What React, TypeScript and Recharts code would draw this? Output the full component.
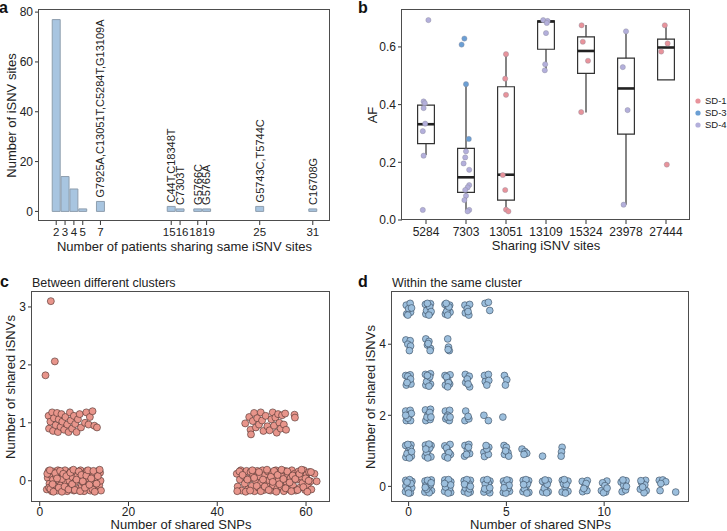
import React from 'react'
import {
  ComposedChart,
  Scatter,
  XAxis,
  YAxis,
  ReferenceArea,
  ReferenceLine,
} from 'recharts'

const FONT = '"Liberation Sans", Arial, Helvetica, sans-serif'

// ---- panel a: number of patients sharing a site -> number of sites
const patientCounts = [2, 3, 4, 5, 7, 15, 16, 18, 19, 25, 31]
const siteCounts = [77, 14, 9, 1, 4, 2, 1, 1, 1, 2, 1]
const siteNames = [
  '', '', '', '',
  'G7925A,C13051T,C5284T,G13109A',
  'C44T,C18348T',
  'C7303T',
  'G5766C',
  'G5765A',
  'G5743C,T5744C',
  'C16708G',
]

// ---- panel b: allele frequency of shared iSNV sites
const sharedSites = ['5284', '7303', '13051', '13109', '15324', '23978', '27444']
const boxQ1 = [0.265, 0.096, 0.069, 0.592, 0.508, 0.298, 0.486]
const boxMedian = [0.332, 0.148, 0.157, 0.688, 0.586, 0.456, 0.598]
const boxQ3 = [0.398, 0.248, 0.462, 0.69, 0.635, 0.561, 0.627]
const whiskerLow = [0.225, 0.032, 0.032, 0.52, 0.373, 0.053, 0.486]
const whiskerHigh = [0.407, 0.471, 0.575, 0.693, 0.676, 0.655, 0.673]

const donors = ['SD-1', 'SD-3', 'SD-4']
const donorColors = ['#e8939b', '#6b9fd4', '#b3afdb']

// [site index, jitter, AF]
const sd1Points = [
  [2, 0, 0.575], [2, -0.02, 0.49], [2, 0, 0.434], [2, -0.08, 0.156], [2, -0.02, 0.104],
  [2, 0, 0.036], [2, 0.06, 0.03],
  [4, -0.11, 0.675], [4, -0.08, 0.618], [4, 0.05, 0.552], [4, -0.12, 0.374],
  [6, -0.03, 0.675], [6, 0.04, 0.612], [6, -0.12, 0.584], [6, 0.02, 0.192],
]
const sd3Points = [
  [1, -0.04, 0.629], [1, -0.11, 0.608], [1, 0, 0.471], [1, 0.07, 0.281],
]
const sd4Points = [
  [0, 0.06, 0.693], [0, -0.06, 0.411], [0, -0.03, 0.405], [0, -0.06, 0.388], [0, -0.02, 0.334],
  [0, -0.08, 0.308], [0, -0.06, 0.223], [0, -0.08, 0.035],
  [1, 0, 0.238], [1, -0.02, 0.217], [1, -0.06, 0.196], [1, 0.08, 0.174], [1, 0.08, 0.121],
  [1, 0.04, 0.113], [1, -0.02, 0.104], [1, 0, 0.084], [1, -0.04, 0.069], [1, 0.08, 0.035],
  [1, 0.04, 0.03],
  [3, -0.07, 0.693], [3, 0.04, 0.69], [3, 0.02, 0.683], [3, 0, 0.648], [3, -0.02, 0.54],
  [3, -0.03, 0.519],
  [5, 0, 0.654], [5, -0.08, 0.53], [5, 0.04, 0.381], [5, -0.06, 0.053],
]
const donorPoints = [sd1Points, sd3Points, sd4Points]

// ---- panel c: between different clusters [shared SNPs, shared iSNVs] (jittered)
const betweenLowLeft = [
  [1.6, -0.15], [1.8, 0.05], [2.0, 0.17], [2.2, -0.05], [2.5, 0.1], [2.7, -0.18], [3.0, 0.02],
  [3.2, 0.16], [3.4, -0.1], [3.7, 0.08], [4.0, -0.17], [4.1, 0.18], [4.4, 0.0], [4.7, -0.08],
  [4.9, 0.14], [5.2, -0.16], [5.4, 0.05], [5.7, 0.18], [5.9, -0.04], [6.2, -0.18], [6.4, 0.11],
  [6.7, 0.0], [7.0, -0.12], [7.1, 0.17], [7.4, 0.06], [7.7, -0.17], [8.0, -0.02], [8.1, 0.15],
  [8.5, 0.08], [8.7, -0.14], [9.0, 0.02], [9.2, 0.18], [9.5, -0.09], [9.8, 0.12], [10.0, -0.18],
  [10.3, 0.03], [10.6, 0.17], [10.8, -0.1], [11.1, 0.08], [11.4, -0.17], [11.7, 0.15],
  [12.0, -0.03], [12.3, 0.11], [12.6, -0.14], [12.9, 0.05], [13.2, 0.17], [13.4, -0.08],
  [13.7, 0.0], [13.8, -0.17], [13.6, 0.14], [2.1, -0.12], [5.0, 0.03], [9.9, -0.04], [11.9, -0.15],
  [1.7, 0.12], [2.3, 0.18], [2.4, -0.14], [2.9, -0.06], [3.1, -0.19], [3.5, 0.13], [3.9, 0.04],
  [4.3, -0.12], [4.6, 0.17], [5.0, -0.19], [5.3, 0.12], [5.6, -0.1], [6.0, 0.08], [6.5, -0.15],
  [6.9, 0.14], [7.3, -0.06], [7.6, 0.19], [7.9, -0.16], [8.3, 0.02], [8.8, 0.16], [9.1, -0.18],
  [9.4, 0.1], [9.7, -0.01], [10.2, -0.12], [10.5, 0.09], [10.9, 0.18], [11.2, -0.07],
  [11.6, 0.04], [12.1, 0.17], [12.4, -0.19], [12.8, -0.05], [13.1, 0.08], [13.5, 0.19],
]
const betweenLowRight = [
  [44.4, 0.12], [44.6, -0.1], [45.1, 0.02], [45.3, 0.18], [45.5, -0.17], [46.0, 0.08],
  [46.2, -0.05], [46.6, 0.17], [46.9, -0.15], [47.2, 0.03], [47.5, 0.15], [47.8, -0.09],
  [48.1, 0.1], [48.4, -0.18], [48.7, 0.0], [49.0, 0.17], [49.3, -0.12], [49.6, 0.07],
  [49.9, -0.03], [50.2, 0.18], [50.5, -0.16], [50.8, 0.1], [51.1, -0.06], [51.4, 0.16],
  [51.7, 0.01], [52.0, -0.17], [52.3, 0.12], [52.6, -0.08], [52.9, 0.05], [53.2, 0.18],
  [53.5, -0.14], [53.8, 0.0], [54.1, 0.15], [54.4, -0.1], [54.7, 0.08], [55.0, -0.18],
  [55.3, 0.17], [55.6, -0.02], [55.9, 0.11], [56.2, -0.15], [56.5, 0.04], [56.8, 0.18],
  [57.1, -0.09], [57.4, 0.12], [57.7, -0.17], [58.0, 0.02], [58.3, 0.16], [58.6, -0.12],
  [58.9, 0.07], [59.2, -0.04], [59.5, 0.18], [59.8, -0.16], [60.1, 0.1], [60.4, -0.07],
  [60.7, 0.15], [61.0, -0.01], [61.2, -0.15], [61.9, 0.12], [62.4, -0.01],
  [44.5, -0.18], [45.0, 0.16], [45.7, 0.1], [46.4, -0.19], [46.8, 0.02], [47.4, -0.17],
  [47.9, 0.18], [48.3, 0.05], [48.9, -0.09], [49.4, 0.15], [49.8, -0.18], [50.3, 0.02],
  [50.7, -0.1], [51.2, 0.19], [51.6, -0.16], [52.1, 0.07], [52.5, -0.02], [52.8, 0.17],
  [53.3, -0.19], [53.6, 0.1], [54.0, -0.06], [54.5, 0.19], [54.9, 0.03], [55.4, -0.13],
  [55.8, 0.16], [56.3, -0.03], [56.7, -0.18], [57.0, 0.09], [57.6, 0.03], [58.1, -0.16],
  [58.5, 0.12], [59.0, 0.19], [59.4, -0.11], [59.9, 0.04], [60.3, -0.19], [60.6, 0.0], [61.1, 0.15],
]
const betweenHighLeft = [
  [2.0, 1.12], [2.1, 0.9], [2.4, 1.02], [2.8, 1.18], [3.0, 0.86], [3.2, 1.08], [3.6, 0.96],
  [3.9, 1.17], [4.1, 0.84], [4.3, 1.06], [4.7, 0.93], [4.9, 1.15], [5.1, 1.02], [5.5, 0.88],
  [5.8, 1.1], [6.2, 0.97], [6.5, 0.84], [6.8, 1.18], [7.0, 1.04], [7.3, 0.9], [7.7, 1.12],
  [8.0, 0.98], [8.3, 0.84], [8.6, 1.06], [9.0, 1.15], [9.3, 0.92], [10.2, 1.0], [10.5, 1.18],
  [11.0, 0.97], [11.3, 1.1], [11.9, 1.2], [12.3, 0.95], [12.9, 0.92],
]
const betweenHighRight = [
  [46.3, 0.99], [47.2, 1.1], [47.5, 0.88], [47.6, 0.8], [48.0, 1.03], [48.3, 1.17],
  [48.7, 0.92], [49.0, 1.08], [49.4, 0.97], [49.8, 1.18], [50.1, 1.04], [50.4, 0.86],
  [50.9, 1.12], [51.3, 0.94], [51.8, 0.87], [52.2, 1.06], [52.5, 1.18], [52.8, 0.95],
  [53.1, 1.09], [53.4, 0.83], [53.7, 1.15], [54.0, 1.0], [54.3, 0.9], [54.6, 1.13],
  [55.0, 0.97], [55.3, 1.16], [55.5, 0.88], [57.4, 1.14], [57.5, 1.09],
]
const betweenOutliers = [[1.3, 1.82], [2.5, 3.1], [3.4, 2.06]]

// ---- panel d: within the same cluster [shared SNPs, shared iSNVs] (jittered)
const withinRow0 = [
  [-0.16, -0.15], [0.09, -0.18], [0.17, 0.14], [-0.15, 0.17], [0.02, 0.03], [0.16, -0.04],
  [-0.14, 0.01], [0.05, 0.19], [-0.04, -0.09], [0.12, 0.08], [-0.08, 0.12], [0.0, -0.19],
  [0.84, 0.15], [1.16, 0.18], [0.83, -0.16], [1.17, -0.12], [1.01, -0.02], [0.88, 0.02],
  [1.12, 0.05], [0.97, 0.17], [1.05, -0.18], [0.92, -0.08], [1.15, 0.1], [0.85, -0.03],
  [1.84, -0.14], [2.15, -0.17], [2.16, 0.13], [1.85, 0.18], [2.0, 0.0], [1.94, 0.1],
  [2.09, -0.06], [1.89, -0.02], [2.04, 0.19], [2.02, -0.19], [2.15, 0.04], [1.84, 0.08],
  [2.84, 0.16], [3.16, 0.17], [2.85, -0.15], [3.15, -0.16], [3.0, 0.04], [2.91, -0.05],
  [3.09, 0.07], [2.98, 0.19], [3.04, -0.19], [3.11, -0.07], [2.86, 0.06], [3.16, 0.0],
  [3.85, -0.16], [4.15, -0.18], [4.16, 0.15], [3.84, 0.17], [3.98, -0.02], [4.08, 0.09],
  [3.92, 0.06], [4.02, 0.19], [4.06, -0.1], [3.89, -0.07], [4.15, -0.04],
  [4.85, 0.15], [5.15, 0.16], [4.84, -0.17], [5.16, -0.14], [5.0, 0.01], [4.92, 0.08],
  [5.08, -0.06], [5.03, 0.18], [4.97, -0.19], [5.14, 0.03], [4.88, -0.04],
  [5.85, -0.15], [6.15, -0.17], [6.14, 0.16], [5.86, 0.17], [6.01, 0.0], [5.92, -0.07],
  [6.08, 0.07], [6.0, 0.19], [6.05, -0.19], [5.88, 0.05],
  [6.85, 0.14], [7.15, 0.16], [6.86, -0.16], [7.14, -0.15], [7.02, 0.02], [6.94, -0.05],
  [7.09, 0.06], [6.98, 0.18], [7.06, -0.18],
  [7.85, -0.16], [8.15, -0.14], [8.15, 0.15], [7.86, 0.17], [8.0, -0.01], [7.92, 0.07],
  [8.06, 0.05], [8.02, -0.19], [7.96, 0.19],
  [8.88, 0.14], [9.14, 0.16], [8.9, -0.15], [9.12, -0.12], [9.02, 0.0], [9.08, 0.08], [8.96, -0.06],
  [9.86, -0.12], [10.14, 0.15], [10.08, -0.16], [9.92, 0.1], [10.04, 0.02], [9.97, -0.18], [10.15, -0.05],
  [10.87, 0.12], [11.12, 0.16], [10.92, -0.15], [11.1, -0.1], [11.0, 0.03], [11.14, 0.0], [10.96, 0.18],
  [11.85, -0.08], [12.12, 0.17], [12.15, -0.12], [11.92, 0.1], [12.04, -0.18], [12.08, 0.04],
  [11.88, 0.16], [11.97, -0.02],
  [12.82, 0.17], [13.0, 0.18], [13.15, 0.13], [12.9, 0.08], [12.86, -0.12],
  [13.66, -0.16],
]
const withinRow1 = [
  [-0.15, 1.15], [0.12, 1.17], [-0.14, 0.82], [0.14, 0.85], [0.0, 1.0], [-0.08, 0.92],
  [0.08, 1.08], [0.04, 0.8], [-0.04, 1.18], [0.15, 0.98],
  [0.85, 0.85], [1.14, 0.83], [0.86, 1.16], [1.15, 1.15], [1.0, 1.02], [0.92, 0.95],
  [1.08, 1.08], [0.98, 0.8], [1.04, 1.19], [0.88, 1.05],
  [1.85, 1.14], [2.12, 1.18], [1.86, 0.84], [2.14, 0.9], [2.0, 1.0], [1.94, 1.08], [2.06, 0.95], [2.0, 0.8],
  [2.88, 1.15], [3.08, 1.18], [2.86, 0.85], [3.12, 0.92], [3.0, 1.02], [2.96, 0.9], [3.06, 1.1],
  [3.85, 0.96], [4.1, 1.1], [3.88, 0.84], [4.08, 0.9], [4.0, 1.05], [3.96, 1.15],
  [4.88, 1.15], [5.0, 1.1], [4.9, 0.9], [5.08, 0.95], [5.12, 0.85], [4.96, 1.0],
  [5.8, 1.05], [5.95, 0.98], [6.04, 0.93], [5.9, 0.9],
  [6.85, 0.85],
  [7.85, 1.1], [7.82, 0.97], [7.8, 0.85],
]
const withinRow2 = [
  [-0.15, 2.12], [0.08, 2.14], [-0.12, 1.85], [0.1, 1.85], [0.0, 2.0], [-0.04, 1.92], [0.14, 2.05], [-0.15, 2.0],
  [0.86, 2.15], [1.12, 2.17], [0.88, 1.85], [1.1, 1.88], [1.0, 2.02], [0.94, 1.95], [1.08, 2.08], [1.14, 1.95],
  [1.88, 2.12], [2.1, 2.14], [1.9, 1.9], [2.08, 1.85], [2.0, 2.0], [1.96, 1.95], [2.12, 1.95],
  [2.92, 2.12], [2.88, 1.85], [3.08, 1.9], [3.04, 1.97],
  [3.85, 2.0], [4.08, 1.85],
  [4.82, 1.95],
]
const withinRow3 = [
  [-0.15, 3.12], [0.08, 3.14], [-0.12, 2.85], [0.12, 2.88], [0.0, 3.0], [-0.04, 3.1], [0.1, 3.02], [-0.08, 2.92],
  [0.86, 3.15], [1.12, 3.17], [0.88, 2.85], [1.12, 2.88], [1.0, 3.02], [0.92, 2.95], [1.08, 3.08], [0.96, 3.12], [1.04, 2.82],
  [1.86, 3.12], [2.12, 3.14], [1.88, 2.85], [2.1, 2.88], [2.0, 3.0], [1.94, 3.08], [2.04, 2.92], [2.0, 2.8],
  [2.9, 3.15], [3.1, 3.1], [2.92, 2.92], [3.12, 2.8], [3.0, 3.02], [3.04, 2.88],
  [3.88, 3.12], [4.08, 3.15], [3.92, 2.95], [4.1, 2.98], [4.0, 2.85],
  [4.9, 3.12], [5.02, 3.0], [4.95, 2.85],
]
const withinRow4 = [
  [-0.14, 4.12], [0.08, 4.1], [-0.04, 4.0], [0.1, 3.95], [0.04, 3.82],
  [0.88, 4.15], [1.04, 4.08], [0.96, 3.98], [1.12, 3.88], [1.1, 3.82], [1.0, 4.02],
  [2.0, 4.15], [2.04, 3.92], [2.08, 3.82], [2.02, 3.85],
]
const withinRow5 = [
  [-0.12, 5.1], [0.08, 5.15], [-0.1, 4.85], [0.1, 4.9], [0.0, 5.0], [-0.04, 4.82], [0.15, 5.02],
  [0.86, 5.12], [1.12, 5.14], [0.88, 4.85], [1.1, 4.88], [1.0, 5.0], [0.92, 4.95], [1.08, 5.05],
  [1.15, 4.92], [0.96, 5.15], [1.04, 4.82],
  [1.86, 5.12], [2.1, 5.1], [1.88, 4.85], [2.12, 4.9], [2.0, 5.0], [1.94, 4.92], [2.06, 5.05],
  [2.0, 4.82], [1.92, 5.15],
  [2.88, 5.1], [3.12, 5.12], [2.9, 4.88], [3.08, 4.82], [3.0, 5.0], [3.04, 4.92],
  [3.91, 5.15], [4.08, 5.18], [4.15, 4.95],
]

const toXY = (pts: number[][]) => pts.map(([x, y]) => ({ x, y }))

const tickStyle = { fill: '#222', fontSize: 12, fontFamily: FONT }
const axisTitle = { fill: '#222', fontSize: 13, fontFamily: FONT }
const yTitle = { ...axisTitle, textAnchor: 'middle' as const }

const dot = (fill: string, stroke: string, r: number, sw: number) => (p: any) => (
  <circle cx={p.cx} cy={p.cy} r={r} fill={fill} stroke={stroke} strokeWidth={sw} />
)

// page layout of the four panels (chart box, margins, axis sizes)
const layout = {
  a: { left: 0, top: 0, width: 340, height: 260, margin: { top: 10, right: 10, bottom: 0, left: 0 }, yw: 39, xh: 39 },
  b: { left: 360, top: 0, width: 367, height: 260, margin: { top: 10, right: 37, bottom: 0, left: 0 }, yw: 42, xh: 40 },
  c: { left: 0, top: 260, width: 340, height: 271, margin: { top: 32, right: 10, bottom: 0, left: 0 }, yw: 32, xh: 29 },
  d: { left: 360, top: 260, width: 367, height: 271, margin: { top: 32, right: 38, bottom: 0, left: 0 }, yw: 32, xh: 29 },
}
type Box = typeof layout.a
const plotRect = (b: Box) => ({
  x: b.left + b.margin.left + b.yw,
  y: b.top + b.margin.top,
  w: b.width - b.margin.left - b.margin.right - b.yw,
  h: b.height - b.margin.top - b.margin.bottom - b.xh,
})

// small nudges so the crowded tick labels of panel a read as in the figure
const tickNudge: Record<number, number> = { 15: -2, 16: 2, 18: -2, 19: 2 }

const domA = { x: [0.055, 32.945], y: [-3.85, 80.85] }
const domB = { x: [-0.6, 6.6], y: [0, 0.728] }
const domC = { x: [-1.74, 65.4], y: [-0.367, 3.258] }
const domD = { x: [-0.85, 14.34], y: [-0.44, 5.47] }

const axisCommon = {
  type: 'number' as const,
  allowDataOverflow: true,
  interval: 0 as const,
  tickSize: 4,
  axisLine: false,
  tickLine: { stroke: '#333' },
}

function PanelA() {
  const L = layout.a
  const labelled = patientCounts
    .map((x, i) => ({ x, y: siteCounts[i], name: siteNames[i] }))
    .filter((d) => d.name)
  return (
    <ComposedChart width={L.width} height={L.height} margin={L.margin}>
      <XAxis
        {...axisCommon}
        dataKey="x"
        domain={domA.x}
        ticks={patientCounts}
        tickMargin={3}
        height={L.xh}
        tick={(p: any) => (
          <text
            x={p.x + (tickNudge[p.payload.value] || 0)}
            y={p.y}
            dy="0.71em"
            textAnchor="middle"
            {...tickStyle}
            fontSize={11.5}
          >
            {p.payload.value}
          </text>
        )}
        label={{ value: 'Number of patients sharing same iSNV sites', position: 'insideBottom', offset: 9, style: axisTitle }}
      />
      <YAxis
        {...axisCommon}
        dataKey="y"
        domain={domA.y}
        ticks={[0, 20, 40, 60, 80]}
        width={L.yw}
        tick={tickStyle}
        label={{ value: 'Number of iSNV sites', position: 'insideLeft', angle: -90, offset: 11, style: yTitle }}
      />
      {patientCounts.map((x, i) => (
        <ReferenceArea
          key={x}
          x1={x - 0.45}
          x2={x + 0.45}
          y1={0}
          y2={siteCounts[i]}
          fill="#a8c5e0"
          fillOpacity={1}
          stroke="#8e9eae"
          strokeWidth={1}
        />
      ))}
      <Scatter
        data={labelled}
        isAnimationActive={false}
        shape={(p: any) => (
          <text
            x={p.cx}
            y={p.cy - 4}
            dy="0.35em"
            transform={`rotate(-90 ${p.cx} ${p.cy - 4})`}
            fontSize={11}
            fontFamily={FONT}
            fill="#222"
          >
            {p.payload.name}
          </text>
        )}
      />
    </ComposedChart>
  )
}

function PanelB() {
  const L = layout.b
  return (
    <ComposedChart width={L.width} height={L.height} margin={L.margin}>
      <XAxis
        {...axisCommon}
        dataKey="x"
        domain={domB.x}
        ticks={sharedSites.map((_, i) => i)}
        tickFormatter={(i: number) => sharedSites[i]}
        tickMargin={3}
        tick={tickStyle}
        height={L.xh}
        label={{ value: 'Sharing iSNV sites', position: 'insideBottom', offset: 10, style: axisTitle }}
      />
      <YAxis
        {...axisCommon}
        dataKey="y"
        domain={domB.y}
        ticks={[0, 0.2, 0.4, 0.6]}
        tickFormatter={(v: number) => v.toFixed(1)}
        width={L.yw}
        tick={tickStyle}
        label={{ value: 'AF', position: 'insideLeft', angle: -90, offset: 12, style: yTitle }}
      />
      {sharedSites.map((s, i) => (
        <ReferenceLine key={'wl' + s} segment={[{ x: i, y: whiskerLow[i] }, { x: i, y: boxQ1[i] }]} stroke="#333" strokeWidth={1.2} />
      ))}
      {sharedSites.map((s, i) => (
        <ReferenceLine key={'wh' + s} segment={[{ x: i, y: boxQ3[i] }, { x: i, y: whiskerHigh[i] }]} stroke="#333" strokeWidth={1.2} />
      ))}
      {sharedSites.map((s, i) => (
        <ReferenceArea
          key={'box' + s}
          x1={i - 0.21}
          x2={i + 0.21}
          y1={boxQ1[i]}
          y2={boxQ3[i]}
          fill="#fff"
          fillOpacity={1}
          stroke="#333"
          strokeWidth={1.2}
        />
      ))}
      {sharedSites.map((s, i) => (
        <ReferenceLine key={'md' + s} segment={[{ x: i - 0.21, y: boxMedian[i] }, { x: i + 0.21, y: boxMedian[i] }]} stroke="#222" strokeWidth={2.6} />
      ))}
      {donorPoints.map((pts, k) => (
        <Scatter
          key={donors[k]}
          name={donors[k]}
          data={pts.map(([s, j, af]) => ({ x: s + j, y: af }))}
          isAnimationActive={false}
          shape={dot(donorColors[k], '#8a8a9a', 2.6, 0.4)}
        />
      ))}
    </ComposedChart>
  )
}

function PanelC() {
  const L = layout.c
  const groups = [betweenLowLeft, betweenLowRight, betweenHighLeft, betweenHighRight, betweenOutliers]
  return (
    <ComposedChart width={L.width} height={L.height} margin={L.margin}>
      <XAxis
        {...axisCommon}
        dataKey="x"
        domain={domC.x}
        ticks={[0, 20, 40, 60]}
        tickMargin={1}
        tick={tickStyle}
        height={L.xh}
        label={{ value: 'Number of shared SNPs', position: 'insideBottom', offset: 2, style: axisTitle }}
      />
      <YAxis
        {...axisCommon}
        dataKey="y"
        domain={domC.y}
        ticks={[0, 1, 2, 3]}
        width={L.yw}
        tick={tickStyle}
        label={{ value: 'Number of shared iSNVs', position: 'insideLeft', angle: -90, offset: 10, dy: -10, style: yTitle }}
      />
      {groups.map((g, k) => (
        <Scatter key={k} data={toXY(g)} isAnimationActive={false} shape={dot('#e8958b', '#4a2f2c', 3.5, 0.6)} />
      ))}
    </ComposedChart>
  )
}

function PanelD() {
  const L = layout.d
  const rows = [withinRow0, withinRow1, withinRow2, withinRow3, withinRow4, withinRow5]
  return (
    <ComposedChart width={L.width} height={L.height} margin={L.margin}>
      <XAxis
        {...axisCommon}
        dataKey="x"
        domain={domD.x}
        ticks={[0, 5, 10]}
        tickMargin={1}
        tick={tickStyle}
        height={L.xh}
        label={{ value: 'Number of shared SNPs', position: 'insideBottom', offset: 2, style: axisTitle }}
      />
      <YAxis
        {...axisCommon}
        dataKey="y"
        domain={domD.y}
        ticks={[0, 2, 4]}
        width={L.yw}
        tick={tickStyle}
        label={{ value: 'Number of shared iSNVs', position: 'insideLeft', angle: -90, offset: 10, style: yTitle }}
      />
      {rows.map((g, k) => (
        <Scatter key={k} data={toXY(g)} isAnimationActive={false} shape={dot('#9cbfdd', '#34475a', 3.4, 0.6)} />
      ))}
    </ComposedChart>
  )
}

export default function App() {
  const pos = (b: Box): React.CSSProperties => ({ position: 'absolute', left: b.left, top: b.top })
  const frames = [layout.a, layout.b, layout.c, layout.d].map(plotRect)
  return (
    <div style={{ position: 'absolute', left: 0, top: 0, width: 727, height: 531, background: '#fff', overflow: 'hidden', fontFamily: FONT }}>
      <div style={pos(layout.a)}><PanelA /></div>
      <div style={pos(layout.b)}><PanelB /></div>
      <div style={pos(layout.c)}><PanelC /></div>
      <div style={pos(layout.d)}><PanelD /></div>
      {/* panel borders around each plotting area */}
      {frames.map((r, i) => (
        <div
          key={i}
          style={{
            position: 'absolute',
            left: r.x - 1,
            top: r.y - 1,
            width: r.w + 1,
            height: r.h + 1,
            border: '1.3px solid #4d4d4d',
            boxSizing: 'border-box',
            pointerEvents: 'none',
          }}
        />
      ))}
      <svg width={727} height={531} style={{ position: 'absolute', left: 0, top: 0, pointerEvents: 'none' }}>
        <g fontFamily={FONT} fill="#111">
          <text x={-1} y={13} fontSize={16} fontWeight="bold">a</text>
          <text x={358} y={13} fontSize={16} fontWeight="bold">b</text>
          <text x={0} y={287} fontSize={16} fontWeight="bold">c</text>
          <text x={358} y={287} fontSize={16} fontWeight="bold">d</text>
          <text x={32} y={287} fontSize={12.5} fill="#222">Between different clusters</text>
          <text x={392} y={287} fontSize={12.5} fill="#222">Within the same cluster</text>
        </g>
        {donors.map((d, k) => (
          <g key={d}>
            <circle cx={698} cy={101 + k * 12} r={2.6} fill={donorColors[k]} />
            <text x={705} y={101 + k * 12} dy="0.35em" fontSize={9.5} fontFamily={FONT} fill="#222">{d}</text>
          </g>
        ))}
      </svg>
    </div>
  )
}
